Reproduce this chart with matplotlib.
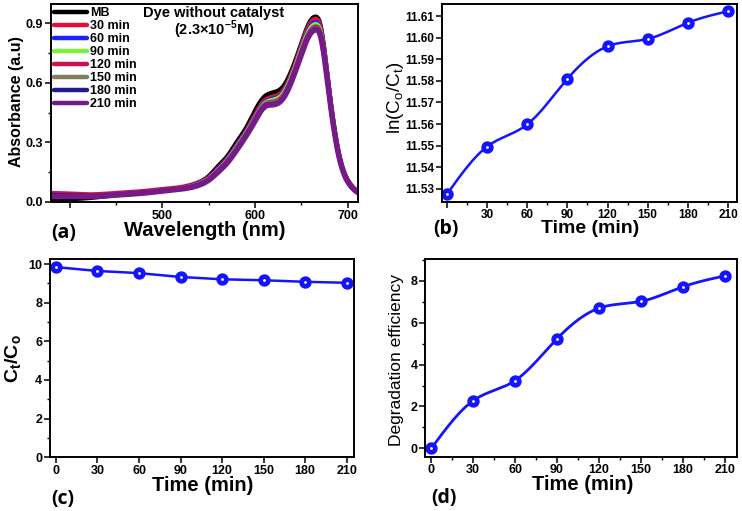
import numpy as np
import matplotlib
matplotlib.use("Agg")
import matplotlib.pyplot as plt
from matplotlib.ticker import MultipleLocator, FixedLocator, FixedFormatter, FormatStrFormatter

plt.rcParams['font.family'] = ['Liberation Sans', 'DejaVu Sans']
plt.rcParams['font.weight'] = 'bold'
plt.rcParams['axes.labelweight'] = 'bold'

# ---------------- data ----------------
wavelength = [380, 400, 420, 450, 480, 500, 520, 540, 550, 560, 570, 580, 590, 600,
              610, 620, 630, 640, 650, 660, 665, 670, 680, 690, 700, 710]
spec_labels = ['MB', '30 min', '60 min', '90 min', '120 min', '150 min', '180 min', '210 min']
spec_colors = ['#000000', '#e0103c', '#1a22ff', '#7cf03c', '#d0104c', '#7f7f5a', '#1c1c8c', '#761a8a']
abs_MB  = [0.015, 0.015, 0.020, 0.035, 0.050, 0.060, 0.070, 0.100, 0.130, 0.180, 0.230, 0.300, 0.370, 0.460,
           0.530, 0.552, 0.580, 0.670, 0.800, 0.915, 0.933, 0.900, 0.560, 0.250, 0.110, 0.050]
abs_30  = [0.045, 0.042, 0.038, 0.045, 0.055, 0.065, 0.075, 0.100, 0.125, 0.170, 0.220, 0.285, 0.355, 0.440,
           0.510, 0.530, 0.560, 0.655, 0.790, 0.905, 0.922, 0.890, 0.560, 0.250, 0.110, 0.055]
abs_60  = [0.035, 0.033, 0.030, 0.040, 0.050, 0.060, 0.070, 0.095, 0.120, 0.165, 0.215, 0.280, 0.350, 0.430,
           0.500, 0.520, 0.550, 0.645, 0.775, 0.888, 0.905, 0.875, 0.550, 0.245, 0.105, 0.050]
abs_90  = [0.030, 0.030, 0.028, 0.038, 0.048, 0.058, 0.068, 0.092, 0.117, 0.160, 0.210, 0.275, 0.345, 0.425,
           0.495, 0.515, 0.545, 0.640, 0.770, 0.878, 0.895, 0.868, 0.550, 0.245, 0.105, 0.050]
abs_120 = [0.040, 0.038, 0.033, 0.040, 0.050, 0.060, 0.070, 0.090, 0.115, 0.158, 0.207, 0.270, 0.340, 0.420,
           0.490, 0.505, 0.535, 0.630, 0.760, 0.866, 0.883, 0.858, 0.545, 0.243, 0.104, 0.050]
abs_150 = [0.030, 0.030, 0.028, 0.037, 0.047, 0.057, 0.067, 0.089, 0.113, 0.155, 0.204, 0.267, 0.337, 0.416,
           0.487, 0.500, 0.530, 0.625, 0.755, 0.860, 0.877, 0.853, 0.543, 0.242, 0.103, 0.050]
abs_180 = [0.035, 0.033, 0.030, 0.037, 0.047, 0.057, 0.066, 0.088, 0.112, 0.153, 0.200, 0.263, 0.333, 0.412,
           0.483, 0.495, 0.525, 0.620, 0.750, 0.855, 0.872, 0.849, 0.540, 0.240, 0.102, 0.050]
abs_210 = [0.028, 0.028, 0.027, 0.035, 0.045, 0.055, 0.065, 0.086, 0.110, 0.150, 0.197, 0.260, 0.330, 0.408,
           0.478, 0.490, 0.520, 0.615, 0.745, 0.850, 0.867, 0.845, 0.538, 0.240, 0.102, 0.050]
spectra = [abs_MB, abs_30, abs_60, abs_90, abs_120, abs_150, abs_180, abs_210]

time_min = [0, 30, 60, 90, 120, 150, 180, 210]
ln_c0_ct = [11.5274, 11.5495, 11.5598, 11.5809, 11.5960, 11.5994, 11.6069, 11.6122]
ct_c0 = [9.84, 9.64, 9.53, 9.33, 9.21, 9.16, 9.08, 9.03]
degradation = [0.00, 2.28, 3.24, 5.24, 6.70, 7.02, 7.72, 8.24]


def natural_spline(x, y, n=400):
    x = np.asarray(x, float)
    y = np.asarray(y, float)
    m = len(x)
    h = np.diff(x)
    A = np.zeros((m, m))
    r = np.zeros(m)
    A[0, 0] = 1
    A[-1, -1] = 1
    for i in range(1, m - 1):
        A[i, i - 1] = h[i - 1]
        A[i, i] = 2 * (h[i - 1] + h[i])
        A[i, i + 1] = h[i]
        r[i] = 6 * ((y[i + 1] - y[i]) / h[i] - (y[i] - y[i - 1]) / h[i - 1])
    M = np.linalg.solve(A, r)
    xs = np.linspace(x[0], x[-1], n)
    k = np.clip(np.searchsorted(x, xs) - 1, 0, m - 2)
    hk = h[k]
    t1 = x[k + 1] - xs
    t0 = xs - x[k]
    ys = (M[k] * t1 ** 3 / (6 * hk) + M[k + 1] * t0 ** 3 / (6 * hk)
          + (y[k] / hk - M[k] * hk / 6) * t1 + (y[k + 1] / hk - M[k + 1] * hk / 6) * t0)
    return xs, ys


W, H = 742, 511
fig = plt.figure(figsize=(W / 100, H / 100), dpi=100)


def box(l, r, t, b):
    return [l / W, 1 - b / H, (r - l) / W, (b - t) / H]


def style(ax, fs=8.5):
    for s in ax.spines.values():
        s.set_linewidth(1.4)
    ax.tick_params(which='major', direction='out', length=4, width=1.1, labelsize=fs, pad=1.5)
    ax.tick_params(which='minor', direction='out', length=2, width=1.0)


blue = '#1414ff'
mk = dict(marker='o', ls='none', ms=5.5, mfc='white', mec=blue, mew=3.4)

# ---------------- (a) ----------------
axa = fig.add_axes(box(51, 358, 4, 202))
for lab, col, ys in zip(spec_labels, spec_colors, spectra):
    xs, yy = natural_spline(wavelength, ys)
    axa.plot(xs, yy, color=col, lw=4.0 if lab == '210 min' else 3.2, label=lab,
             solid_capstyle='round')
axa.set_xlim(380, 711)
axa.set_ylim(0, 0.997)
axa.xaxis.set_major_locator(FixedLocator([400, 500, 600, 700]))
axa.xaxis.set_major_formatter(FixedFormatter(['', '500', '600', '700']))
axa.xaxis.set_minor_locator(MultipleLocator(50))
axa.yaxis.set_major_locator(MultipleLocator(0.3))
axa.yaxis.set_minor_locator(MultipleLocator(0.15))
axa.yaxis.set_major_formatter(FormatStrFormatter('%.1f'))
style(axa, 9)
axa.set_xlabel('Wavelength (nm)', fontsize=14.5, va='center')
axa.xaxis.set_label_coords(0.5, -0.145)
axa.set_ylabel('Absorbance (a.u)', fontsize=11.5, va='center')
axa.yaxis.set_label_coords(-0.112, 0.508)
leg = axa.legend(loc='upper left', bbox_to_anchor=(0.0, 1.0), frameon=False, fontsize=9,
                 handlelength=2.6, handletextpad=0.3, labelspacing=0.08, borderaxespad=0.15,
                 borderpad=0.1)
for ln in leg.get_lines():
    ln.set_linewidth(3.2)
axa.text(0.531, 0.955, 'Dye without catalyst', transform=axa.transAxes, ha='center', va='center',
         fontsize=10.5, fontweight='bold')
axa.text(0.531, 0.869, '(2.3×10$^{\\mathregular{-5}}$M)', transform=axa.transAxes, ha='center',
         va='center', fontsize=10.5, fontweight='bold')

# ---------------- (b) ----------------
axb = fig.add_axes(box(442, 737, 4, 201.7))
xs, yy = natural_spline(time_min, ln_c0_ct)
axb.plot(xs, yy, color=blue, lw=1.8)
axb.plot(time_min, ln_c0_ct, **mk)
axb.set_xlim(-3.6, 216.7)
axb.set_ylim(11.524, 11.6156)
axb.xaxis.set_major_locator(FixedLocator(time_min))
axb.xaxis.set_major_formatter(FixedFormatter([''] + [str(t) for t in time_min[1:]]))
axb.xaxis.set_minor_locator(MultipleLocator(15))
axb.yaxis.set_major_locator(MultipleLocator(0.01))
axb.yaxis.set_major_formatter(FormatStrFormatter('%.2f'))
style(axb, 8.5)
axb.set_xlabel('Time (min)', fontsize=14, va='center')
axb.xaxis.set_label_coords(0.503, -0.137)
axb.set_ylabel('ln(C$_\\mathregular{o}$/C$_\\mathregular{t}$)', fontsize=13.5, va='center',
               fontweight='normal')
axb.yaxis.set_label_coords(-0.156, 0.527)

# ---------------- (c) ----------------
axc = fig.add_axes(box(50, 354, 259, 457.3))
axc.plot(time_min, ct_c0, color=blue, lw=1.8)
axc.plot(time_min, ct_c0, **mk)
axc.set_xlim(-4.3, 215.3)
axc.set_ylim(0, 10.26)
axc.xaxis.set_major_locator(FixedLocator(time_min))
axc.yaxis.set_major_locator(MultipleLocator(2))
axc.yaxis.set_minor_locator(MultipleLocator(1))
style(axc, 9)
axc.set_xlabel('Time (min)', fontsize=14.5, va='center')
axc.xaxis.set_label_coords(0.502, -0.142)
axc.set_ylabel('C$_\\mathregular{t}$/C$_\\mathregular{o}$', fontsize=14, va='center')
axc.yaxis.set_label_coords(-0.12, 0.5)

# ---------------- (d) ----------------
axd = fig.add_axes(box(425.3, 737, 259, 456.7))
xs, yy = natural_spline(time_min, degradation)
axd.plot(xs, yy, color=blue, lw=2.0)
axd.plot(time_min, degradation, **mk)
axd.set_xlim(-4.3, 218.8)
axd.set_ylim(-0.4, 9.05)
axd.xaxis.set_major_locator(FixedLocator(time_min))
axd.xaxis.set_minor_locator(MultipleLocator(15))
axd.yaxis.set_major_locator(MultipleLocator(2))
axd.yaxis.set_minor_locator(MultipleLocator(1))
style(axd, 9)
axd.set_xlabel('Time (min)', fontsize=14.5, va='center')
axd.xaxis.set_label_coords(0.504, -0.142)
axd.set_ylabel('Degradation efficiency', fontsize=12.5, va='center', fontweight='normal')
axd.yaxis.set_label_coords(-0.094, 0.489)

# ---------------- panel labels ----------------
for lab, (px, py) in zip(['(a)', '(b)', '(c)', '(d)'],
                         [(64, 233), (446, 229), (62.5, 499), (443.5, 498)]):
    fig.text(px / W, 1 - py / H, lab, ha='center', va='center', fontsize=14,
             fontweight='bold', family=['Open Sans', 'DejaVu Sans'])

fig.savefig('out.png', dpi=100)
